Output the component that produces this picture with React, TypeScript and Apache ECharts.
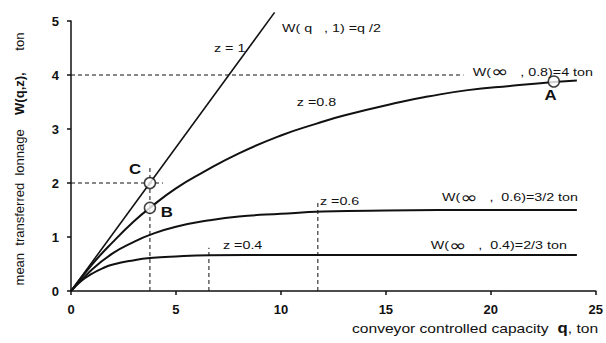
import React, { useEffect, useRef } from "react";
import * as echarts from "echarts";

// ---- data ----
const xTicks = [0, 5, 10, 15, 20, 25];
const yTicks = [0, 1, 2, 3, 4, 5];

const z1Q = [0, 9.7];
const z1W = [0, 5.16];

const z08Q = [0, 1, 2, 3, 3.76, 5, 6.3, 8, 10, 11.7, 13, 15.7, 17, 18.9, 21, 23, 24.1];
const z08W = [0, 0.49, 0.91, 1.29, 1.54, 1.9, 2.2, 2.55, 2.88, 3.1, 3.25, 3.5, 3.6, 3.72, 3.8, 3.87, 3.9];

const z06Q = [0, 1, 2, 3, 3.76, 5, 6.6, 8, 10, 12, 15, 20, 24.1];
const z06W = [0, 0.4, 0.7, 0.91, 1.04, 1.19, 1.31, 1.38, 1.43, 1.47, 1.49, 1.5, 1.5];

const z04Q = [0, 0.5, 1, 1.5, 2, 3, 3.76, 5, 6.6, 10, 15, 24.1];
const z04W = [0, 0.19, 0.32, 0.42, 0.49, 0.57, 0.61, 0.64, 0.66, 0.667, 0.667, 0.667];

// dashed guide segments: [q1, w1, q2, w2]
const guides = [
  [0, 4, 18.7, 4],
  [0, 2, 4.38, 2],
  [3.76, 0, 3.76, 2.28],
  [6.57, 0, 6.57, 0.8],
  [11.76, 0, 11.76, 1.65],
];

// marked points
const pointNames = ["A", "B", "C"];
const pointQ = [23, 3.76, 3.76];
const pointW = [3.88, 1.54, 2];

// letter labels for the marked points (data coordinates of their centres)
const letterQ = [22.85, 4.57, 3.05];
const letterW = [3.63, 1.46, 2.26];

// text annotations: rich text, anchor (left / middle) in data coordinates
const noteTexts = [
  "{t|z = 1}",
  "{t|W( q   , 1) =q /2}",
  "{t|z =0.8}",
  "{t|W(}{i|∞}{t|   , 0.8)=4 ton}",
  "{t|z =0.6}",
  "{t|W(}{i|∞}{t|   ,  0.6)=3/2 ton}",
  "{t|W(}{i|∞}{t|   ,  0.4)=2/3 ton}",
  "{t|z =0.4}",
];
const noteQ = [6.81, 10.05, 10.76, 19.14, 11.86, 17.67, 17.14, 7.24];
const noteW = [4.5, 4.87, 3.5, 4.06, 1.67, 1.74, 0.85, 0.85];

const FONT = "Liberation Sans, Arial, sans-serif";
const INK = "#111";

export default function App() {
  const ref = useRef<HTMLDivElement>(null);
  useEffect(() => {
    if (!ref.current) return;
    const chart = echarts.init(ref.current, null, { renderer: "svg" });
    const pair = (qs: number[], ws: number[]) => qs.map((q, i) => [q, ws[i]]);
    const curve = (name: string, qs: number[], ws: number[], extra: any = {}) => ({
      name,
      type: "line",
      data: pair(qs, ws),
      smooth: 0.5,
      showSymbol: false,
      symbol: "none",
      lineStyle: { color: INK, width: 2 },
      z: 3,
      ...extra,
    });
    const guideSeries = guides.map((g, i) => ({
      name: "guide" + i,
      type: "line",
      data: [
        [g[0], g[1]],
        [g[2], g[3]],
      ],
      symbol: "none",
      lineStyle: { color: INK, width: 1, type: [4, 3] },
      z: 2,
    }));
    const axisLabel = {
      margin: 12,
      color: INK,
      fontSize: 13,
      fontWeight: "bold",
      fontFamily: FONT,
    };
    const option: any = {
      animation: false,
      grid: { left: 71, right: 10, top: 21, bottom: 52, containLabel: false },
      xAxis: {
        type: "value",
        min: 0,
        max: 25,
        interval: 5,
        splitLine: { show: false },
        axisLine: { onZero: false, lineStyle: { color: INK, width: 1.5 } },
        axisTick: { show: true, length: 4, lineStyle: { color: INK, width: 1.5 } },
        axisLabel: { ...axisLabel, formatter: (v: number) => (xTicks.includes(v) ? String(v) : "") },
      },
      yAxis: {
        type: "value",
        min: 0,
        max: 5,
        interval: 1,
        splitLine: { show: false },
        axisLine: { show: true, lineStyle: { color: INK, width: 1.5 } },
        axisTick: { show: true, length: 4, lineStyle: { color: INK, width: 1.5 } },
        axisLabel: { ...axisLabel, formatter: (v: number) => (yTicks.includes(v) ? String(v) : "") },
      },
      series: [
        ...guideSeries,
        curve("z1", z1Q, z1W, { smooth: false, clip: false, lineStyle: { color: INK, width: 1.6 } }),
        curve("z08", z08Q, z08W),
        curve("z06", z06Q, z06W),
        curve("z04", z04Q, z04W),
        {
          name: "points",
          type: "scatter",
          data: pair(pointQ, pointW).map((d, i) => ({ value: d, name: pointNames[i] })),
          symbol: "circle",
          symbolSize: 11,
          itemStyle: { color: "#fff", borderColor: INK, borderWidth: 1.5 },
          z: 5,
        },
      ],
    };
    chart.setOption(option);

    const toPx = (q: number, w: number) => chart.convertToPixel({ gridIndex: 0 }, [q, w]) as number[];
    const noteGraphics = noteTexts.map((t, i) => {
      const [px, py] = toPx(noteQ[i], noteW[i]);
      return {
        type: "text",
        x: px,
        y: py,
        scaleX: 1.3,
        silent: true,
        style: {
          text: t,
          align: "left",
          verticalAlign: "middle",
          rich: {
            t: { fontSize: 11, fontFamily: FONT, fill: INK },
            i: { fontSize: 16, fontFamily: "DejaVu Sans, sans-serif", fill: INK },
          },
        },
        z: 10,
      };
    });
    const letterGraphics = pointNames.map((n, i) => {
      const [px, py] = toPx(letterQ[i], letterW[i]);
      return {
        type: "text",
        x: px,
        y: py,
        scaleX: 1.2,
        silent: true,
        style: {
          text: n,
          align: "center",
          verticalAlign: "middle",
          fontSize: 14,
          fontWeight: "bold",
          fontFamily: FONT,
          fill: INK,
        },
        z: 10,
      };
    });
    chart.setOption({
      graphic: [
        {
          type: "text",
          x: 19,
          y: 159,
          rotation: Math.PI / 2,
          silent: true,
          style: {
            text: "{a|mean  transferred  lonnage    }{b|W(q,z),}{a|      ton}",
            align: "center",
            verticalAlign: "middle",
            rich: {
              a: { fontSize: 13, fontFamily: FONT, fill: INK },
              b: { fontSize: 13, fontFamily: FONT, fontWeight: "bold", fill: INK },
            },
          },
        },
        {
          type: "text",
          x: 352,
          y: 328,
          scaleX: 1.2,
          silent: true,
          style: {
            text: "{a|conveyor controlled capacity  }{b|q}{a|, ton}",
            align: "left",
            verticalAlign: "middle",
            rich: {
              a: { fontSize: 13, fontFamily: FONT, fill: INK },
              b: { fontSize: 14, fontFamily: FONT, fontWeight: "bold", fill: INK },
            },
          },
        },
        ...noteGraphics,
        ...letterGraphics,
      ],
    });
    return () => chart.dispose();
  }, []);
  return (
    <div
      ref={ref}
      style={{ width: 606, height: 343, position: "absolute", left: 0, top: 0, background: "#fff" }}
    />
  );
}
